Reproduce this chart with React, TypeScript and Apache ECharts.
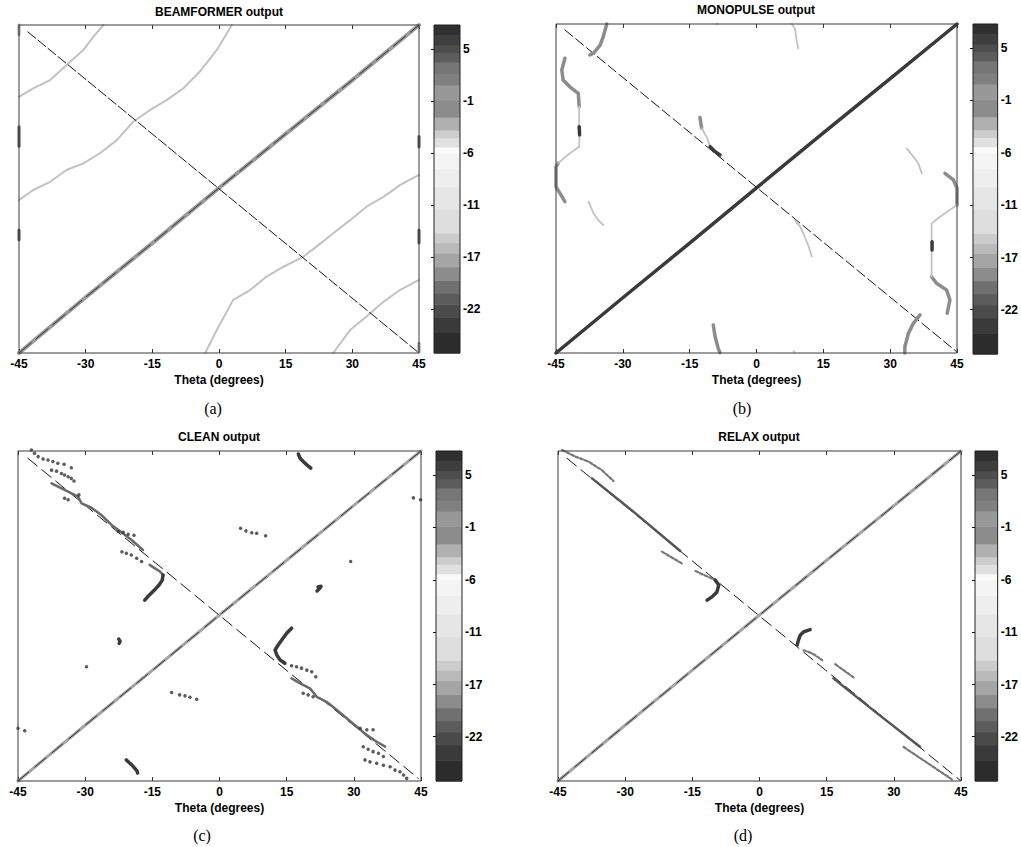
import React, { useEffect, useRef } from 'react';
import * as echarts from 'echarts';

// ---------- text ----------
const TITLES = ['BEAMFORMER output', 'MONOPULSE output', 'CLEAN output', 'RELAX output'];
const SUB_LABELS = ['(a)', '(b)', '(c)', '(d)'];
const X_NAME = 'Theta (degrees)';

// ---------- axes ----------
const THETA_MIN = -45;
const THETA_MAX = 45;
const THETA_STEP = 15;
const Y_MIN = 0;
const Y_MAX = 100;

// ---------- colour bar (colormap levels 0..64, bottom -> top) ----------
const CB_LABELS = ['5', '-1', '-6', '-11', '-17', '-22'];
const CB_LEVELS = [59.3, 49.2, 39.0, 28.9, 18.7, 8.6];
const CB_MAX = 64;
const CB_EDGES = [0, 4.0, 7.0, 9.5, 11.7, 14.2, 16.8, 19.5, 21.5, 23.4, 28.0, 32.4, 36.0, 39.0, 40.2, 42.0, 43.5, 46.0, 49.4, 52.3, 54.5, 56.8, 58.5, 60.1, 62.0, 64];
const CB_GRAY = [44, 58, 75, 92, 112, 140, 165, 186, 204, 222, 230, 238, 244, 250, 224, 205, 176, 140, 152, 128, 118, 92, 78, 62, 48];

// ---------- (a) BEAMFORMER ----------
const A_MAIN = [[-45, 0], [-30, 17], [-15, 33.5], [0, 50.3], [15, 66.8], [30, 83.2], [45, 100]];
const A_ANTI = [[-43, 97.9], [45, 0]];
const A_SIDE_1 = [[-45, 78.1], [-41.8, 80.7], [-38.0, 83.2], [-34.3, 87.8], [-30.5, 92.4], [-28.3, 96.4], [-26.0, 100]];
const A_SIDE_2 = [[-45, 46.6], [-41.8, 49.7], [-38.0, 52.2], [-34.3, 55.8], [-30.5, 57.8], [-26.8, 60.9], [-23.0, 64.9], [-19.3, 70.5], [-15.5, 74.1], [-11.8, 77.1], [-8.0, 80.7], [-4.3, 85.8], [-0.5, 92.4], [2.9, 100]];
const A_SIDE_3 = [[-3.1, 0], [-0.5, 7.0], [3.2, 16.2], [7.0, 19.2], [10.7, 23.3], [14.5, 26.3], [19.0, 29.4], [22.0, 32.5], [25.7, 36.5], [29.5, 40.5], [33.2, 44.6], [37.0, 47.6], [40.7, 51.2], [45, 54.3]];
const A_SIDE_4 = [[25.7, 0], [29.5, 7.0], [33.2, 11.1], [37.0, 15.6], [40.7, 19.2], [45, 22.3]];
const A_EDGE_L_1 = [[-45, 63], [-45, 69]];
const A_EDGE_L_2 = [[-45, 34.5], [-45, 37.5]];
const A_EDGE_L_3 = [[-45, 97], [-45, 100]];
const A_EDGE_R_1 = [[45, 62.8], [45, 66]];
const A_EDGE_R_2 = [[45, 33.5], [45, 37.5]];
const A_EDGE_R_3 = [[45, 0.3], [45, 3]];

// ---------- (b) MONOPULSE ----------
const B_MAIN = [[-45, 0], [-30, 16.8], [-15, 33.4], [0, 50.2], [15, 66.9], [30, 83.4], [45, 100]];
const B_ANTI = [[-43, 98.2], [44.9, 0.4]];
const B_TL = [[-33.6, 100], [-34.4, 96.1], [-35.1, 93.6], [-36.6, 91.1], [-37.4, 90.6]];
const B_L_UP = [[-43.0, 89.6], [-43.7, 86.0], [-43.4, 83.0], [-41.9, 80.9], [-40.0, 78.9], [-39.8, 74.9]];
const B_L_MID_1 = [[-39.8, 74.9], [-39.8, 68.8]];
const B_L_DARK = [[-39.8, 68.8], [-39.7, 66.3]];
const B_L_MID_2 = [[-39.7, 66.3], [-39.8, 62.7], [-41.9, 60.7], [-44.5, 57.7]];
const B_L_LOW = [[-44.5, 57.7], [-45, 56.6], [-45, 50.5], [-44.1, 48.5], [-43.0, 46.0]];
const B_LL = [[-37.7, 46.0], [-36.6, 42.5], [-35.5, 40.4], [-34.4, 38.9]];
const B_CL_1 = [[-12.7, 71.6], [-12.3, 68.3]];
const B_CL_2 = [[-12.3, 68.3], [-11.2, 65.7], [-10.4, 62.7]];
const B_CL_3 = [[-10.4, 62.7], [-9.3, 61.2], [-8.2, 60.2]];
const B_TOP = [[7.9, 100], [8.6, 98.7], [8.8, 97.2], [9.0, 95.1], [9.4, 92.6]];
const B_BOT = [[-9.7, 8.5], [-9.3, 5.0], [-8.6, 1.4], [-8.2, 0.1]];
const B_CR = [[8.6, 40.4], [9.8, 38.4], [10.5, 36.4], [11.6, 32.8], [12.4, 29.3]];
const B_R1 = [[33.7, 62.2], [35.2, 59.7], [36.3, 57.7], [37.1, 54.6]];
const B_R_UP = [[42.3, 54.6], [44.2, 52.6], [45, 50.1], [45, 45.0]];
const B_R_MID_1 = [[45, 45], [43.4, 43.5], [41.2, 41.4], [39.3, 39.4], [39.3, 33.8]];
const B_R_DARK = [[39.4, 33.8], [39.4, 31.3]];
const B_R_MID_2 = [[39.3, 31.3], [39.3, 27.3], [39.3, 23.2]];
const B_R_LOW = [[39.3, 23.2], [40.4, 21.2], [42.7, 19.1], [43.4, 16.1], [42.8, 12.1]];
const B_BR = [[36.7, 11.6], [35.2, 9.0], [34.1, 6.0], [33.3, 1.9], [33.3, 0]];
const B_DOTS = [[-8.8, 100], [8.4, 0.4]];

// ---------- (c) CLEAN ----------
const C_MAIN = [[-45, 0], [-30, 16.9], [-15, 33.5], [0, 50.3], [15, 66.9], [30, 83.5], [45, 100]];
const C_ANTI = [[-42.8, 97.8], [44.4, 0.8]];
const C_ROW_1 = [[-42.0, 100.3], [-41.3, 99.3], [-40.5, 98.3], [-39.4, 97.6], [-38.3, 97.3], [-37.2, 96.8], [-36.1, 96.3], [-34.7, 96.0], [-33.1, 94.9]];
const C_ROW_2 = [[-37.5, 94.2], [-36.4, 93.9], [-35.3, 93.2], [-34.6, 92.7], [-33.8, 92.2], [-33.1, 91.7], [-32.5, 90.9]];
const C_TRACK_1 = [[-37.5, 90.2], [-34.6, 88.2], [-31.6, 86.2], [-30.8, 84.1], [-28.6, 82.8], [-26.4, 80.6], [-24.1, 77.6], [-21.9, 75.4], [-19.7, 73.1], [-17.1, 70.0]];
const C_ISO_1 = [[-34.6, 85.7], [-33.8, 85.2], [-31.4, 86.7]];
const C_ROW_3 = [[-22.6, 75.6], [-21.5, 75.4], [-20.4, 74.8], [-19.1, 74.5]];
const C_ROW_4 = [[-21.8, 69.5], [-20.8, 69.0], [-19.7, 68.5], [-18.5, 67.5], [-17.4, 66.5]];
const C_LINK_1 = [[-15.6, 65.5], [-14.5, 64.5], [-13.3, 63.5], [-12.6, 62.4]];
const C_HOOK_1 = [[-12.6, 62.4], [-12.8, 60.8], [-13.5, 59.4], [-14.3, 58.2], [-15.2, 57.0], [-16.0, 55.9], [-16.7, 54.8]];
const C_HOOK_2 = [[16.1, 46.3], [15.0, 44.8], [13.9, 42.7], [13.1, 41.2], [12.4, 39.7], [12.8, 38.2], [13.5, 36.7], [14.6, 35.7]];
const C_ROW_5 = [[16.1, 34.9], [17.2, 34.6], [18.3, 34.2], [19.5, 33.6], [20.6, 33.1], [21.5, 31.6]];
const C_TRACK_2 = [[16.1, 31.1], [18.0, 29.6], [20.2, 28.1], [21.7, 25.5], [23.9, 24.0], [26.2, 21.5], [28.4, 19.0], [30.6, 16.5], [32.9, 13.9], [35.1, 11.9], [37.0, 10.4]];
const C_ROW_6 = [[18.7, 26.6], [19.8, 26.1], [20.9, 25.5]];
const C_ROW_7 = [[31.4, 16.0], [32.9, 15.5], [34.3, 15.5]];
const C_ROW_8 = [[32.1, 10.4], [33.2, 9.6], [34.3, 8.9], [35.5, 8.4], [36.6, 7.4]];
const C_ROW_9 = [[32.5, 6.4], [33.6, 5.8], [35.1, 5.4], [36.6, 4.8], [38.1, 4.3], [39.2, 3.3], [40.3, 2.8], [41.1, 1.8], [41.8, 0.8]];
const C_BLOB_TOP = [[17.6, 99.1], [18.0, 97.8], [18.7, 96.8], [19.5, 95.8], [20.4, 94.8]];
const C_BLOB_R = [[21.8, 57.6], [22.3, 58.3], [22.7, 59.0], [22.0, 58.8]];
const C_BLOB_L = [[-22.5, 43.0], [-22.2, 42.3], [-22.4, 41.7]];
const C_BLOB_BOT = [[-20.8, 6.4], [-20.2, 5.6], [-19.6, 4.9], [-19.0, 4.0], [-18.4, 3.0], [-18.3, 2.4]];
const C_EDGE_R = [[43.3, 85.8], [44.9, 85.2]];
const C_ROW_MID = [[4.7, 76.6], [5.9, 75.8], [7.2, 75.2], [8.3, 75.1], [10.3, 74.3]];
const C_ISO_2 = [[29.3, 66.5], [-29.7, 34.6]];
const C_ROW_LOW = [[-10.7, 26.8], [-8.9, 26.1], [-7.7, 25.8], [-6.6, 25.4], [-5.1, 24.8]];
const C_EDGE_L = [[-45.0, 16.0], [-43.5, 15.2]];

// ---------- (d) RELAX ----------
const D_MAIN = [[-45, 0], [-30, 16.9], [-15, 33.6], [0, 50.3], [15, 66.9], [30, 83.4], [45, 100]];
const D_ANTI = [[-43.0, 97.8], [44.8, 0.2]];
const D_TOP_DOTS = [[-44.1, 100.3], [-41.1, 98.3], [-38.2, 96.8], [-35.2, 94.2], [-32.6, 90.9]];
const D_TRACK_1 = [[-37.4, 91.7], [-27.7, 81.1], [-17.7, 69.7]];
const D_SEG_1 = [[-21.8, 69.5], [-17.3, 65.9]];
const D_SEG_2 = [[-14.3, 63.6], [-9.9, 60.9]];
const D_HOOK_1 = [[-9.9, 60.9], [-9.1, 59.4], [-9.5, 57.3], [-10.6, 55.8], [-11.7, 54.8]];
const D_HOOK_2 = [[11.3, 45.9], [9.85, 45.2], [9.1, 44.2], [8.7, 42.7], [8.4, 41.2]];
const D_SEG_3 = [[9.85, 39.6], [11.0, 39.1], [12.1, 38.4], [13.2, 37.4], [14.0, 36.6]];
const D_SEG_4 = [[16.9, 35.4], [21.0, 31.4]];
const D_TRACK_2 = [[16.5, 31.1], [26.0, 20.8], [35.9, 10.3]];
const D_SEG_5 = [[32.2, 10.3], [37.8, 5.2], [43.3, 0.2]];

// ---------- layout ----------
const LAYOUT = [
  { grid: { left: 19, top: 25, width: 400, height: 328 }, cb: { left: 434, top: 25, width: 26, height: 328 }, title: [219, 12], sub: [213, 408] },
  { grid: { left: 556, top: 24, width: 401, height: 329 }, cb: { left: 973, top: 24, width: 26, height: 330 }, title: [756, 10], sub: [742, 408] },
  { grid: { left: 18, top: 451, width: 403, height: 330 }, cb: { left: 436, top: 451, width: 26, height: 330 }, title: [219, 437], sub: [202, 835] },
  { grid: { left: 558, top: 451, width: 403, height: 330 }, cb: { left: 975, top: 451, width: 26, height: 330 }, title: [759, 437], sub: [743, 835] },
];

const FONT = '"Liberation Sans", Arial, sans-serif';
const SERIF = '"Liberation Serif", "Times New Roman", serif';

const DARK = '#3a3a3a';
const GRAY = '#8c8c8c';
const LIGHT = '#c2c2c2';
const BLACK = '#151515';

function line(p: number, data: number[][], color: string, width: number, type: any = 'solid', z = 3) {
  return {
    type: 'line', xAxisIndex: 2 * p, yAxisIndex: p, data, symbol: 'none', silent: true,
    lineStyle: { color, width, type, cap: 'round', join: 'round' }, z, clip: false,
  };
}
function dots(p: number, data: number[][], color: string, size: number, z = 6) {
  return {
    type: 'scatter', xAxisIndex: 2 * p, yAxisIndex: p, data, symbol: 'circle', symbolSize: size,
    itemStyle: { color }, silent: true, z, clip: false,
  };
}

function buildOption() {
  const series: any[] = [];
  // (a)
  [A_SIDE_1, A_SIDE_2, A_SIDE_3, A_SIDE_4].forEach((d) => series.push(line(0, d, LIGHT, 2, 'solid', 2)));
  series.push(line(0, A_MAIN, '#9a9a9a', 4));
  series.push(line(0, A_MAIN, '#2a2a2a', 0.9, [16, 6], 4));
  series.push(line(0, A_ANTI, BLACK, 1, [10, 3], 4));
  [A_EDGE_L_1, A_EDGE_L_2, A_EDGE_R_1, A_EDGE_R_2].forEach((d) => series.push(line(0, d, '#555', 3, 'solid', 5)));
  [A_EDGE_L_3, A_EDGE_R_3].forEach((d) => series.push(line(0, d, '#999', 3, 'solid', 5)));
  // (b)
  series.push(line(1, B_MAIN, DARK, 3.5));
  series.push(line(1, B_ANTI, BLACK, 1, [10, 4], 4));
  [B_TL, B_L_UP, B_L_LOW, B_CL_1, B_BOT, B_R_UP, B_R_LOW, B_BR].forEach((d) => series.push(line(1, d, GRAY, 3.5, 'solid', 5)));
  [B_L_MID_1, B_L_MID_2, B_LL, B_CL_2, B_TOP, B_CR, B_R1, B_R_MID_1, B_R_MID_2].forEach((d) => series.push(line(1, d, LIGHT, 1.8, 'solid', 5)));
  [B_L_DARK, B_CL_3, B_R_DARK].forEach((d) => series.push(line(1, d, DARK, 3.5, 'solid', 6)));
  series.push(dots(1, B_DOTS, LIGHT, 3));
  // (c)
  series.push(line(2, C_MAIN, '#a4a4a4', 3));
  series.push(line(2, C_MAIN, BLACK, 0.8, [14, 8], 4));
  series.push(line(2, C_ANTI, BLACK, 1, [12, 6], 4));
  [C_TRACK_1, C_TRACK_2, C_LINK_1].forEach((d) => series.push(line(2, d, '#6a6a6a', 2.5, 'solid', 5)));
  [C_HOOK_1, C_HOOK_2, C_BLOB_TOP, C_BLOB_R, C_BLOB_L, C_BLOB_BOT].forEach((d) => series.push(line(2, d, DARK, 3.5, 'solid', 6)));
  [C_ROW_1, C_ROW_2, C_ISO_1, C_ROW_3, C_ROW_4, C_ROW_5, C_ROW_6, C_ROW_7, C_ROW_8, C_ROW_9, C_EDGE_R, C_ROW_MID, C_ISO_2, C_ROW_LOW, C_EDGE_L]
    .forEach((d) => series.push(dots(2, d, '#333333', 3.5)));
  // (d)
  series.push(line(3, D_MAIN, '#a4a4a4', 3));
  series.push(line(3, D_MAIN, BLACK, 0.8, [14, 8], 4));
  series.push(line(3, D_ANTI, BLACK, 1, [12, 6], 4));
  [D_TRACK_1, D_TRACK_2].forEach((d) => series.push(line(3, d, '#555', 2.5, 'solid', 5)));
  [D_TOP_DOTS, D_SEG_1, D_SEG_2, D_SEG_3, D_SEG_4, D_SEG_5].forEach((d) => series.push(line(3, d, '#777', 2.2, [3, 2], 5)));
  [D_HOOK_1, D_HOOK_2].forEach((d) => series.push(line(3, d, DARK, 3.5, 'solid', 6)));

  // colour bars
  const bands = CB_GRAY.map((g, i) => [CB_EDGES[i], CB_EDGES[i + 1], g]);
  for (let p = 0; p < 4; p++) {
    series.push({
      type: 'custom', xAxisIndex: 8 + p, yAxisIndex: 4 + p, data: bands, silent: true, z: 1,
      encode: { y: [0, 1] },
      renderItem: (params: any, api: any) => {
        const lo = api.coord([0, api.value(0)]);
        const hi = api.coord([1, api.value(1)]);
        const g = api.value(2);
        return {
          type: 'rect',
          shape: { x: lo[0], y: hi[1], width: hi[0] - lo[0], height: lo[1] - hi[1] + 0.5 },
          style: { fill: `rgb(${g},${g},${g})` },
        };
      },
    });
  }

  const grids: any[] = [];
  const xAxes: any[] = [];
  const yAxes: any[] = [];
  const labelStyle = { color: '#000', fontWeight: 'bold', fontSize: 12, fontFamily: FONT };
  LAYOUT.forEach((L) => {
    grids.push({ ...L.grid, show: true, borderColor: '#3a3a3a', borderWidth: 1, z: 10, backgroundColor: 'transparent' });
  });
  LAYOUT.forEach((L) => {
    grids.push({ ...L.cb, show: true, borderColor: '#222', borderWidth: 1, z: 10, backgroundColor: 'transparent' });
  });
  for (let p = 0; p < 4; p++) {
    xAxes.push({
      type: 'value', gridIndex: p, min: THETA_MIN, max: THETA_MAX, interval: THETA_STEP, position: 'bottom',
      axisLine: { show: false }, splitLine: { show: false },
      axisTick: { inside: true, length: 4, lineStyle: { color: '#333' } },
      axisLabel: { ...labelStyle, margin: 5 },
      name: X_NAME, nameLocation: 'middle', nameGap: 21, nameTextStyle: { ...labelStyle },
    });
    xAxes.push({
      type: 'value', gridIndex: p, min: THETA_MIN, max: THETA_MAX, interval: THETA_STEP, position: 'top',
      axisLine: { show: false }, splitLine: { show: false },
      axisTick: { inside: true, length: 4, lineStyle: { color: '#333' } },
      axisLabel: { show: false },
    });
    yAxes.push({ type: 'value', gridIndex: p, min: Y_MIN, max: Y_MAX, show: false });
  }
  for (let p = 0; p < 4; p++) {
    yAxes.push({
      type: 'value', gridIndex: 4 + p, min: 0, max: CB_MAX, position: 'right',
      axisLine: { show: false }, splitLine: { show: false },
      axisTick: { show: true, inside: true, length: 3, customValues: CB_LEVELS, lineStyle: { color: '#111' } },
      axisLabel: {
        ...labelStyle, margin: 3, customValues: CB_LEVELS,
        formatter: (v: number) => {
          let best = 0;
          CB_LEVELS.forEach((l, i) => { if (Math.abs(l - v) < Math.abs(CB_LEVELS[best] - v)) best = i; });
          return CB_LABELS[best];
        },
      },
    });
  }
  for (let p = 0; p < 4; p++) {
    xAxes.push({ type: 'value', gridIndex: 4 + p, min: 0, max: 1, show: false });
  }

  const graphics: any[] = [];
  LAYOUT.forEach((L, p) => {
    graphics.push({
      type: 'text', x: L.title[0], y: L.title[1], silent: true,
      style: { text: TITLES[p], fill: '#000', font: `bold 12px ${FONT}`, align: 'center', verticalAlign: 'middle', textAlign: 'center', textVerticalAlign: 'middle' },
    });
    graphics.push({
      type: 'text', x: L.sub[0], y: L.sub[1], silent: true,
      style: { text: SUB_LABELS[p], fill: '#000', font: `16px ${SERIF}`, align: 'center', verticalAlign: 'middle', textAlign: 'center', textVerticalAlign: 'middle' },
    });
  });

  return {
    animation: false,
    backgroundColor: '#ffffff',
    grid: grids,
    xAxis: xAxes,
    yAxis: yAxes,
    series,
    graphic: { elements: graphics },
  };
}

export default function App() {
  const ref = useRef<HTMLDivElement>(null);
  useEffect(() => {
    if (!ref.current) return;
    const chart = echarts.init(ref.current, undefined, { renderer: 'svg' });
    chart.setOption(buildOption() as any);
    return () => chart.dispose();
  }, []);
  return (
    <div
      ref={ref}
      style={{ position: 'absolute', left: 0, top: 0, width: 1021, height: 847, background: '#fff' }}
    />
  );
}
